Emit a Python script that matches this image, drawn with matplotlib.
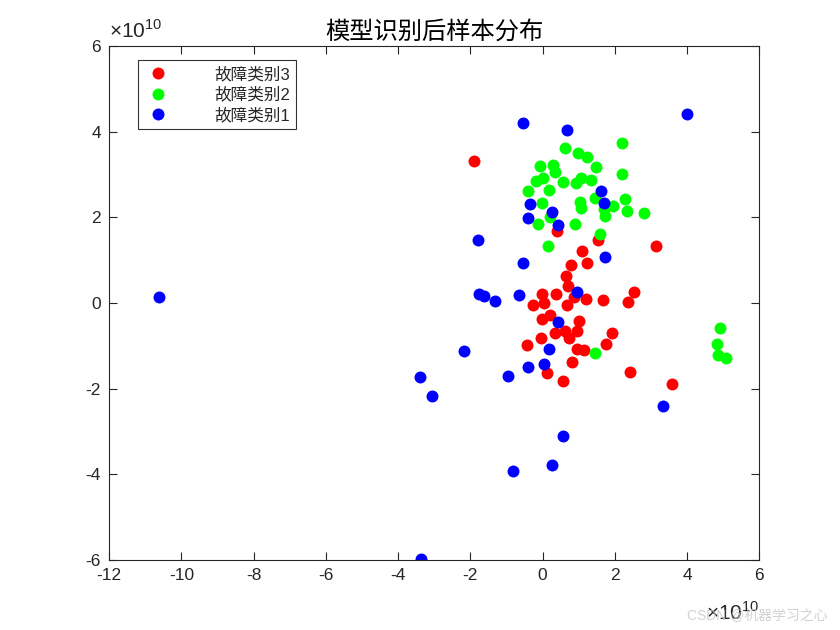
import numpy as np
import matplotlib.pyplot as plt
from matplotlib import ticker

plt.rcParams["font.family"] = ["Liberation Sans", "Noto Sans CJK SC"]
plt.rcParams["axes.unicode_minus"] = False
plt.rcParams["mathtext.fontset"] = "custom"
plt.rcParams["mathtext.rm"] = "Liberation Sans"

scale = 1e10

# 故障类别3 (red)
x3 = np.array([-1.89, 0.39, 1.54, 3.15, 1.09, 1.23, 0.79, 0.65, 0.71, -0.02, 0.37, 2.53,
               0.88, 1.20, 1.68, 2.35, 0.68, 0.05, -0.28, 0.19, -0.03, 1.02, 0.34, 0.61,
               0.72, 0.95, -0.04, 1.91, -0.42, 1.76, 0.95, 1.14, 0.82, 2.42, 0.12, 0.57, 3.57])
y3 = np.array([3.31, 1.68, 1.47, 1.32, 1.21, 0.94, 0.88, 0.63, 0.40, 0.22, 0.22, 0.25,
               0.14, 0.09, 0.07, 0.03, -0.04, -0.005, -0.05, -0.27, -0.38, -0.41, -0.71, -0.66,
               -0.82, -0.65, -0.81, -0.70, -0.98, -0.96, -1.08, -1.10, -1.38, -1.61, -1.64, -1.82, -1.89])

# 故障类别2 (green)
x2 = np.array([2.21, 0.61, 0.98, 1.24, -0.08, 0.28, 0.35, 1.47, 2.19, 0.00, -0.18, 0.57,
               0.93, 1.07, 1.35, -0.40, 0.18, -0.03, 1.04, 1.05, 1.46, 2.28, 1.94, 2.33,
               2.82, 1.70, 1.72, 0.19, -0.14, 0.89, 1.60, 0.14, 1.44, 4.92, 4.84, 4.86, 5.09])
y2 = np.array([3.74, 3.62, 3.50, 3.42, 3.19, 3.23, 3.05, 3.18, 3.02, 2.92, 2.85, 2.83,
               2.81, 2.93, 2.87, 2.61, 2.63, 2.34, 2.35, 2.22, 2.45, 2.43, 2.27, 2.14,
               2.09, 2.19, 2.02, 2.00, 1.85, 1.84, 1.60, 1.34, -1.17, -0.59, -0.96, -1.21, -1.28])

# 故障类别1 (blue)
x1 = np.array([-0.53, 0.68, 4.01, 1.62, -0.35, 1.69, 0.25, -0.40, 0.43, -1.78, 1.74, -0.55,
               0.94, -0.65, -1.75, -1.61, -1.31, -10.62, 0.43, -2.18, 0.18, 0.03, -0.40, -0.95,
               -3.40, -3.06, 3.32, 0.57, 0.26, -0.83, -3.38])
y1 = np.array([4.21, 4.05, 4.42, 2.61, 2.32, 2.33, 2.13, 1.98, 1.81, 1.46, 1.08, 0.94,
               0.26, 0.19, 0.20, 0.16, 0.05, 0.13, -0.44, -1.13, -1.08, -1.43, -1.50, -1.71,
               -1.72, -2.16, -2.40, -3.11, -3.78, -3.92, -5.98])

fig = plt.figure(figsize=(8.4, 6.3), dpi=100)
ax = fig.add_axes([0.13, 0.111, 0.774, 0.816])

ms = 8.6
ax.plot(x3 * scale, y3 * scale, 'o', color=(1, 0, 0), ms=ms, mec='none', label='故障类别3')
ax.plot(x2 * scale, y2 * scale, 'o', color=(0, 1, 0), ms=ms, mec='none', label='故障类别2')
ax.plot(x1 * scale, y1 * scale, 'o', color=(0, 0, 1), ms=ms, mec='none', label='故障类别1')

ax.set_xlim(-12e10, 6e10)
ax.set_ylim(-6e10, 6e10)
ax.set_xticks(np.arange(-12, 7, 2) * scale)
ax.set_yticks(np.arange(-6, 7, 2) * scale)

fmt = ticker.FuncFormatter(lambda v, pos: f"{v / scale:g}")
ax.xaxis.set_major_formatter(fmt)
ax.yaxis.set_major_formatter(fmt)

dark = (0.15, 0.15, 0.15)
ax.tick_params(direction='in', top=True, right=True, length=6, width=0.8,
               colors=dark, labelsize=12.5, labelcolor=dark, pad=6)
for s in ax.spines.values():
    s.set_color(dark)
    s.set_linewidth(0.8)

# exponent labels, as MATLAB puts them
ax.text(0.0, 1.008, r'$\times10^{10}$', transform=ax.transAxes, ha='left', va='bottom',
        fontsize=15, color=dark)
ax.text(1.0, -0.08, r'$\times10^{10}$', transform=ax.transAxes, ha='right', va='top',
        fontsize=15, color=dark)

ax.set_title('模型识别后样本分布', fontsize=17.5, color='black', pad=5,
             family=['Noto Sans CJK SC'], fontweight='light')

leg = ax.legend(loc='upper left', bbox_to_anchor=(0.045, 0.972), fontsize=12,
                frameon=True, fancybox=False, edgecolor='black',
                handletextpad=2.6, borderpad=0.35, labelspacing=0.3, handlelength=1.6,
                borderaxespad=0)
leg.get_frame().set_linewidth(0.8)
for t in leg.get_texts():
    t.set_color(dark)

fig.text(0.985, 0.012, 'CSDN @机器学习之心', ha='right', va='bottom', fontsize=10,
         color=(0.78, 0.78, 0.78), alpha=0.8)

fig.savefig('out.png', dpi=100)
